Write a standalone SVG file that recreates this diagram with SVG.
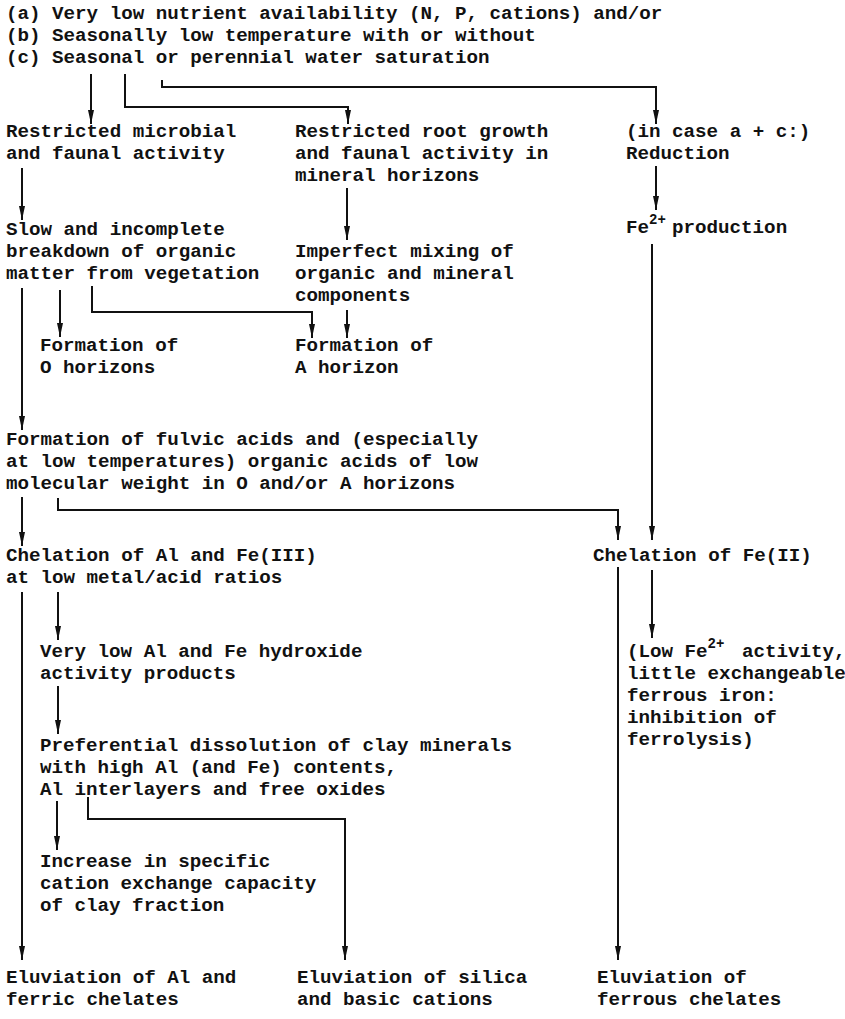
<svg xmlns="http://www.w3.org/2000/svg" width="845" height="1019" viewBox="0 0 845 1019">
<style>
text{font-family:"Liberation Mono","DejaVu Sans Mono",monospace;font-size:19.2px;fill:#111;font-weight:bold}
.sup{font-size:14px}
#connectors path{fill:none;stroke:#111;stroke-width:2}
</style>
<defs>
<marker id="ah" viewBox="0 0 14 6" refX="14" refY="3" markerWidth="14" markerHeight="6" markerUnits="userSpaceOnUse" orient="auto">
<path d="M0,0 L14,3 L0,6 z" fill="#111"/>
</marker>
</defs>
<rect width="845" height="1019" fill="#fff"/>
<g id="connectors">
<path d="M91,74 V124" marker-end="url(#ah)"/>
<path d="M125,74 V107 H348 V124" marker-end="url(#ah)"/>
<path d="M162,80 V87 H656 V124" marker-end="url(#ah)"/>
<path d="M22,168 V220" marker-end="url(#ah)"/>
<path d="M347,188 V240" marker-end="url(#ah)"/>
<path d="M656,166 V210" marker-end="url(#ah)"/>
<path d="M652,244 V540" marker-end="url(#ah)"/>
<path d="M22,288 V430" marker-end="url(#ah)"/>
<path d="M60,290 V337" marker-end="url(#ah)"/>
<path d="M92,286 V312 H312 V338" marker-end="url(#ah)"/>
<path d="M347,310 V338" marker-end="url(#ah)"/>
<path d="M22,497 V546" marker-end="url(#ah)"/>
<path d="M58,498 V510 H618 V540" marker-end="url(#ah)"/>
<path d="M58,592 V640" marker-end="url(#ah)"/>
<path d="M22,592 V960" marker-end="url(#ah)"/>
<path d="M652,570 V638" marker-end="url(#ah)"/>
<path d="M618,567 V960" marker-end="url(#ah)"/>
<path d="M58,686 V734" marker-end="url(#ah)"/>
<path d="M57,801 V850" marker-end="url(#ah)"/>
<path d="M88,797 V819 H345 V960" marker-end="url(#ah)"/>
</g>
<g id="n-causes">
<text x="6" y="19">(a) Very low nutrient availability (N, P, cations) and/or</text>
<text x="6" y="41">(b) Seasonally low temperature with or without</text>
<text x="6" y="63">(c) Seasonal or perennial water saturation</text>
</g>
<g id="n-microbial">
<text x="6" y="137">Restricted microbial</text>
<text x="6" y="159">and faunal activity</text>
</g>
<g id="n-root">
<text x="295" y="137">Restricted root growth</text>
<text x="295" y="159">and faunal activity in</text>
<text x="295" y="181">mineral horizons</text>
</g>
<g id="n-reduction">
<text x="626" y="137">(in case a + c:)</text>
<text x="626" y="159">Reduction</text>
</g>
<g id="n-fe2">
<text x="626" y="233">Fe<tspan class="sup" dy="-9">2+</tspan><tspan x="672" dy="9">production</tspan></text>
</g>
<g id="n-slow">
<text x="6" y="235">Slow and incomplete</text>
<text x="6" y="257">breakdown of organic</text>
<text x="6" y="279">matter from vegetation</text>
</g>
<g id="n-mixing">
<text x="295" y="257">Imperfect mixing of</text>
<text x="295" y="279">organic and mineral</text>
<text x="295" y="301">components</text>
</g>
<g id="n-ohor">
<text x="40" y="351">Formation of</text>
<text x="40" y="373">O horizons</text>
</g>
<g id="n-ahor">
<text x="295" y="351">Formation of</text>
<text x="295" y="373">A horizon</text>
</g>
<g id="n-fulvic">
<text x="6" y="445">Formation of fulvic acids and (especially</text>
<text x="6" y="467">at low temperatures) organic acids of low</text>
<text x="6" y="489">molecular weight in O and/or A horizons</text>
</g>
<g id="n-chelal">
<text x="6" y="561">Chelation of Al and Fe(III)</text>
<text x="6" y="583">at low metal/acid ratios</text>
</g>
<g id="n-chelfe">
<text x="593" y="561">Chelation of Fe(II)</text>
</g>
<g id="n-verylow">
<text x="40" y="657">Very low Al and Fe hydroxide</text>
<text x="40" y="679">activity products</text>
</g>
<g id="n-lowfe">
<text x="627" y="657">(Low Fe<tspan class="sup" dy="-9">2+</tspan><tspan x="742" dy="9">activity,</tspan></text>
<text x="627" y="679">little exchangeable</text>
<text x="627" y="701">ferrous iron:</text>
<text x="627" y="723">inhibition of</text>
<text x="627" y="745">ferrolysis)</text>
</g>
<g id="n-pref">
<text x="40" y="751">Preferential dissolution of clay minerals</text>
<text x="40" y="773">with high Al (and Fe) contents,</text>
<text x="40" y="795">Al interlayers and free oxides</text>
</g>
<g id="n-cec">
<text x="40" y="867">Increase in specific</text>
<text x="40" y="889">cation exchange capacity</text>
<text x="40" y="911">of clay fraction</text>
</g>
<g id="n-elu-al">
<text x="6" y="983">Eluviation of Al and</text>
<text x="6" y="1005">ferric chelates</text>
</g>
<g id="n-elu-si">
<text x="297" y="983">Eluviation of silica</text>
<text x="297" y="1005">and basic cations</text>
</g>
<g id="n-elu-fe">
<text x="597" y="983">Eluviation of</text>
<text x="597" y="1005">ferrous chelates</text>
</g>
</svg>
